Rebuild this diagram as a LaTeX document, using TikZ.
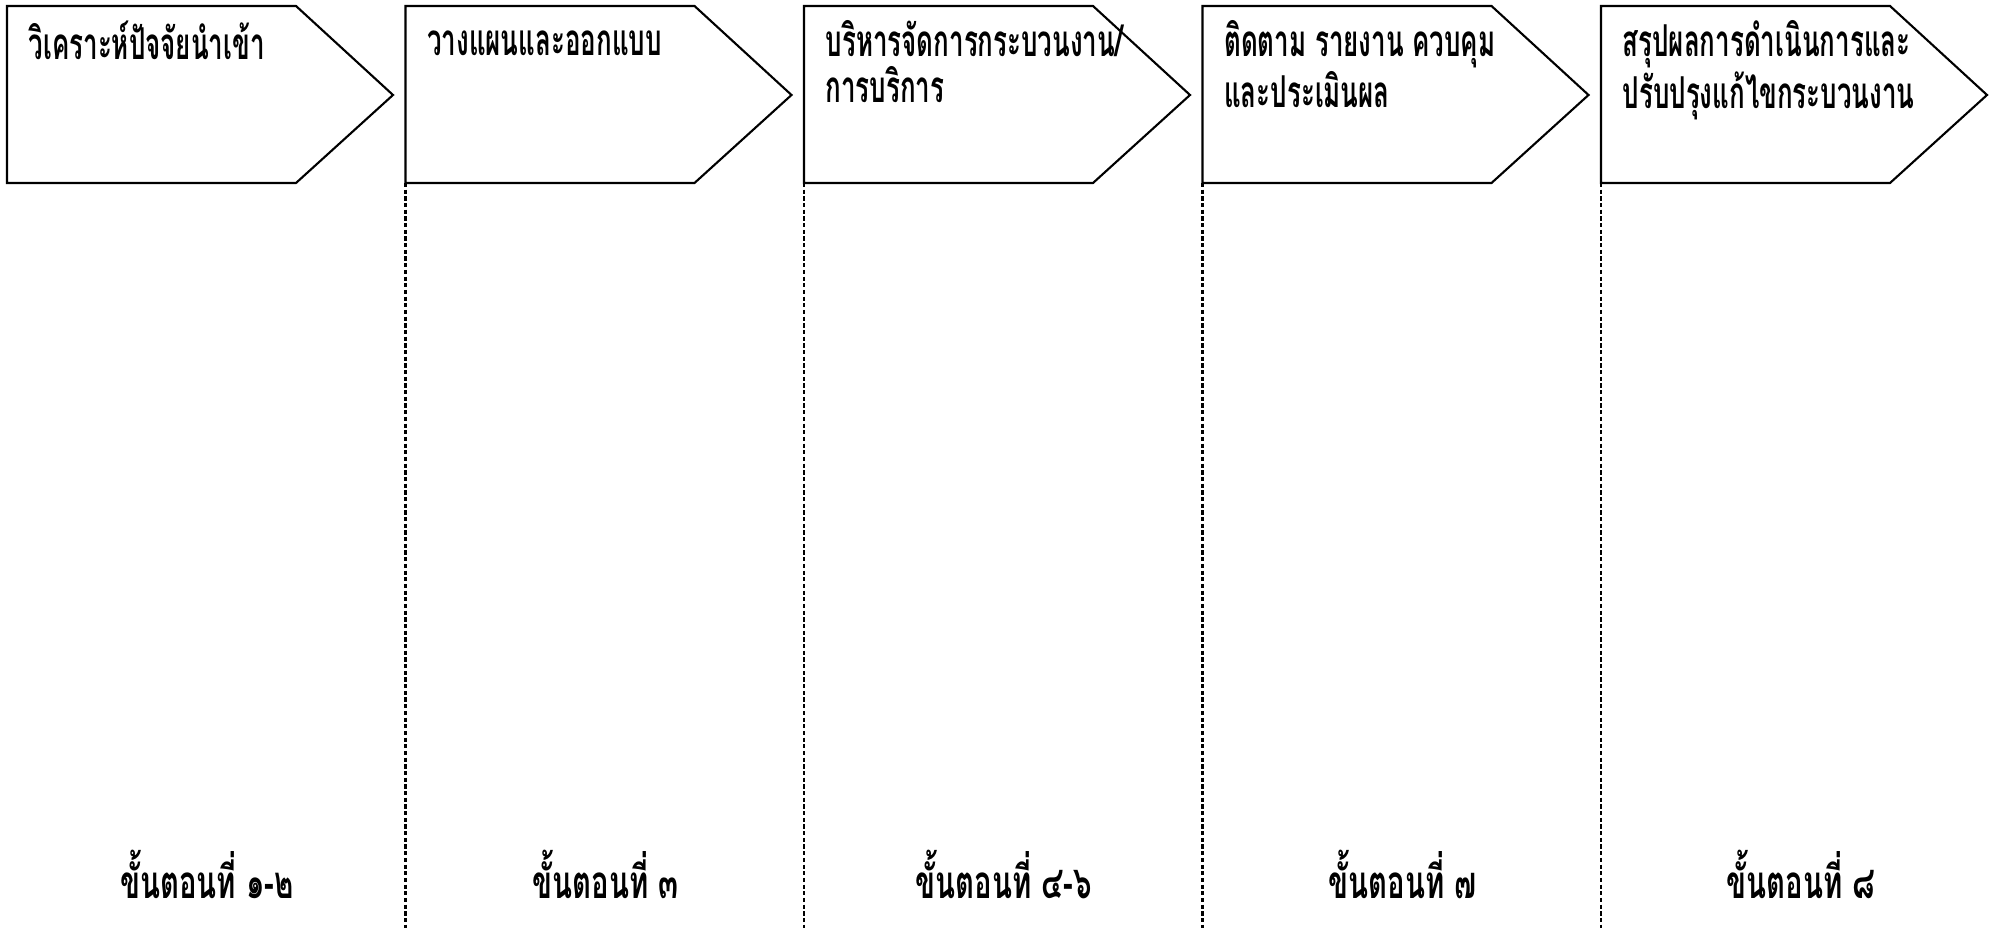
\documentclass[tikz,border=0pt]{standalone}
\usepackage{fontspec}
\newfontfamily\thaititle[Script=Thai,FakeStretch=0.59]{Loma}
\newfontfamily\thaistep[Script=Thai,FakeStretch=0.64]{Loma}
\usetikzlibrary{positioning}

\begin{document}
\begin{tikzpicture}[
    % pixel-like units, y grows downwards
    x=0.01cm, y=-0.01cm,
    stage/.style={
        draw=black,
        line width=0.6pt,
        fill=white
    },
    stage text/.style={
        anchor=north west,
        align=left,
        inner sep=0pt,
        font=\thaititle\bfseries\fontsize{12.5}{13}\selectfont
    },
    divider/.style={
        line width=0.6pt,
        dash pattern=on 1.2pt off 0.7pt
    },
    step label/.style={
        font=\thaistep\bfseries\fontsize{13}{15}\selectfont
    }
]
    \useasboundingbox (0,0) rectangle (2000,928);

    % --- 1. Stage arrows with their titles ---
    \foreach \i/\title/\step in {
        0/{วิเคราะห์ปัจจัยนำเข้า}/{ขั้นตอนที่ ๑-๒},
        1/{วางแผนและออกแบบ}/{ขั้นตอนที่ ๓},
        2/{บริหารจัดการกระบวนงาน/\\การบริการ}/{ขั้นตอนที่ ๔-๖},
        3/{ติดตาม รายงาน ควบคุม\\และประเมินผล}/{ขั้นตอนที่ ๗},
        4/{สรุปผลการดำเนินการและ\\ปรับปรุงแก้ไขกระบวนงาน}/{ขั้นตอนที่ ๘}}
    {
        \pgfmathsetmacro{\xl}{7+398.5*\i}
        \coordinate (top\i) at (\xl,6);
        \coordinate (bot\i) at (\xl,183);
        \draw[stage] (top\i) -- ++(289,0) -- ++(97,89) -- ++(-97,88) -- (bot\i) -- cycle;
        % fixed strut so every first line sits on the same baseline
        \node[stage text] (title\i) at (\xl+21,20) {\rule{0pt}{10pt}\title};
        \node[step label] (step\i) at (\xl+200,874) {\step};
    }

    % --- 2. Dashed dividers between stages ---
    \foreach \i in {1,...,4}{
        \coordinate (end\i) at (bot\i |- 0,928);
        \draw[divider] (bot\i) -- (end\i);
    }

\end{tikzpicture}
\end{document}
